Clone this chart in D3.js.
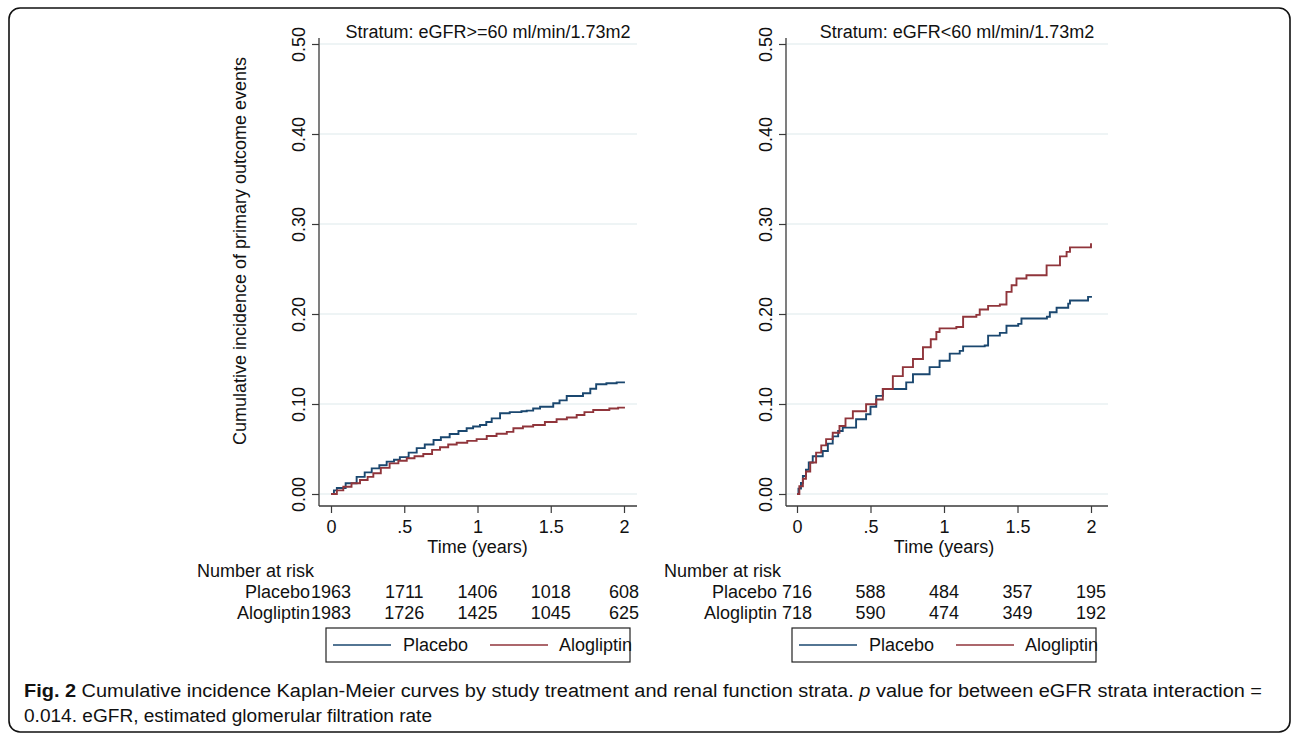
<!DOCTYPE html>
<html><head><meta charset="utf-8">
<script src="https://cdn.jsdelivr.net/npm/d3@7"></script>
<style>
html,body{margin:0;padding:0;background:#fff;}
svg{display:block;}
text{font-family:"Liberation Sans",Arial,sans-serif;fill:#111;}
</style></head>
<body>
<svg id="chart" width="1292" height="734"></svg>
<script>
// ---------- data ----------
const timeTicks = [0, 0.5, 1, 1.5, 2];
const timeTickLabels = ["0", ".5", "1", "1.5", "2"];
const yTicks = [0, 0.1, 0.2, 0.3, 0.4, 0.5];
const yTickLabels = ["0.00", "0.10", "0.20", "0.30", "0.40", "0.50"];
const seriesNames = ["Placebo", "Alogliptin"];
const strata = ["Stratum: eGFR>=60 ml/min/1.73m2", "Stratum: eGFR<60 ml/min/1.73m2"];

// cumulative incidence [time (years), incidence]
const highPlacebo = [[0,0],[0.02,0.004],[0.04,0.0066],[0.1,0.012],[0.175,0.019],[0.23,0.024],[0.278,0.0285],[0.33,0.032],[0.38,0.036],[0.43,0.038],[0.47,0.041],[0.53,0.046],[0.585,0.051],[0.64,0.055],[0.70,0.060],[0.75,0.063],[0.81,0.0667],[0.87,0.070],[0.926,0.073],[0.97,0.075],[1.017,0.0767],[1.06,0.080],[1.097,0.084],[1.154,0.0897],[1.22,0.091],[1.3,0.092],[1.336,0.0926],[1.38,0.095],[1.427,0.097],[1.517,0.1008],[1.56,0.104],[1.609,0.1089],[1.72,0.112],[1.77,0.117],[1.81,0.122],[1.88,0.123],[1.95,0.124],[2.0,0.125]];
const highAlogliptin = [[0,0],[0.04,0.004],[0.084,0.0081],[0.14,0.012],[0.198,0.0156],[0.25,0.019],[0.289,0.023],[0.34,0.029],[0.40,0.034],[0.46,0.037],[0.517,0.0397],[0.57,0.042],[0.63,0.0444],[0.69,0.049],[0.744,0.052],[0.80,0.055],[0.858,0.057],[0.93,0.059],[0.994,0.061],[1.063,0.0644],[1.13,0.067],[1.2,0.069],[1.245,0.073],[1.31,0.075],[1.38,0.0767],[1.46,0.080],[1.54,0.083],[1.61,0.085],[1.677,0.0878],[1.73,0.091],[1.79,0.0933],[1.90,0.095],[1.96,0.096],[2.0,0.097]];
const lowPlacebo = [[0,0],[0.01,0.006],[0.027,0.0123],[0.04,0.02],[0.061,0.027],[0.08,0.035],[0.107,0.042],[0.175,0.0477],[0.21,0.056],[0.243,0.064],[0.28,0.07],[0.311,0.0737],[0.402,0.083],[0.47,0.0886],[0.5,0.097],[0.539,0.109],[0.584,0.1166],[0.743,0.124],[0.789,0.133],[0.902,0.141],[0.97,0.148],[1.039,0.156],[1.107,0.159],[1.13,0.164],[1.277,0.165],[1.3,0.176],[1.38,0.179],[1.425,0.187],[1.505,0.189],[1.527,0.195],[1.70,0.197],[1.72,0.202],[1.766,0.207],[1.845,0.2115],[1.857,0.215],[1.98,0.219],[2.0,0.22]];
const lowAlogliptin = [[0,0],[0.016,0.0086],[0.04,0.017],[0.061,0.025],[0.09,0.035],[0.13,0.046],[0.165,0.054],[0.198,0.061],[0.243,0.068],[0.289,0.0756],[0.33,0.084],[0.38,0.092],[0.47,0.0998],[0.539,0.105],[0.584,0.1166],[0.652,0.131],[0.72,0.141],[0.789,0.150],[0.857,0.163],[0.91,0.172],[0.948,0.18],[0.97,0.184],[1.084,0.1855],[1.13,0.197],[1.22,0.199],[1.243,0.205],[1.3,0.209],[1.38,0.2105],[1.425,0.2246],[1.46,0.232],[1.493,0.2395],[1.561,0.243],[1.675,0.243],[1.698,0.254],[1.789,0.264],[1.834,0.269],[1.857,0.274],[1.993,0.274],[2.0,0.2786]];

const riskHighPlacebo = [1963, 1711, 1406, 1018, 608];
const riskHighAlogliptin = [1983, 1726, 1425, 1045, 625];
const riskLowPlacebo = [716, 588, 484, 357, 195];
const riskLowAlogliptin = [718, 590, 474, 349, 192];

const captionLine1Rest = " Cumulative incidence Kaplan-Meier curves by study treatment and renal function strata. ";
const captionLine1End = " value for between eGFR strata interaction =";
const captionLine2 = "0.014. eGFR, estimated glomerular filtration rate";

// ---------- drawing ----------
const svg = d3.select("#chart");
const BLUE = "#1a476f", RED = "#90353b", GRID = "#e8f0f2", AXIS = "#3a3a3a";
const FS = 18;

// outer frame
svg.append("rect").attr("x", 9).attr("y", 8).attr("width", 1281).attr("height", 724)
  .attr("rx", 11).attr("fill", "none").attr("stroke", "#111").attr("stroke-width", 1.6);

const panels = [
  {title: strata[0], x0: 319, xs: 331, xe: 624, xr: 637, series: [highPlacebo, highAlogliptin], risk: [riskHighPlacebo, riskHighAlogliptin], legX: 326, narX: 197, ytitle: true},
  {title: strata[1], x0: 786, xs: 797, xe: 1091, xr: 1108, series: [lowPlacebo, lowAlogliptin], risk: [riskLowPlacebo, riskLowAlogliptin], legX: 792, narX: 664, ytitle: false}
];

const yTop = 38, yAxisBottom = 506;
const y = d3.scaleLinear().domain([0, 0.5]).range([494, 44]);

panels.forEach(p => {
  const x = d3.scaleLinear().domain([0, 2]).range([p.xs, p.xe]);
  const g = svg.append("g");

  // grid
  g.selectAll("line.grid").data(yTicks).join("line")
    .attr("x1", p.x0 + 1).attr("x2", p.xr).attr("y1", d => y(d)).attr("y2", d => y(d))
    .attr("stroke", GRID).attr("stroke-width", 1.5);

  // y axis
  const yAxis = d3.axisLeft(y).tickValues(yTicks).tickSize(7).tickFormat((d, i) => yTickLabels[i]);
  const ya = g.append("g").attr("transform", `translate(${p.x0},0)`).call(yAxis);
  ya.select(".domain").remove();
  ya.selectAll(".tick line").attr("stroke", AXIS).attr("stroke-width", 1.2);
  ya.selectAll(".tick text").attr("font-size", FS).attr("fill", "#111")
    .attr("font-family", "Liberation Sans, Arial, sans-serif")
    .attr("transform", "rotate(-90)").attr("x", 0).attr("y", -14)
    .attr("text-anchor", "middle").attr("dy", 0);
  g.append("line").attr("x1", p.x0).attr("x2", p.x0).attr("y1", yTop).attr("y2", yAxisBottom)
    .attr("stroke", AXIS).attr("stroke-width", 1.3);

  // x axis
  const xAxis = d3.axisBottom(x).tickValues(timeTicks).tickSize(7).tickFormat((d, i) => timeTickLabels[i]);
  const xa = g.append("g").attr("transform", `translate(0,${yAxisBottom})`).call(xAxis);
  xa.select(".domain").remove();
  xa.selectAll(".tick line").attr("stroke", AXIS).attr("stroke-width", 1.2);
  xa.selectAll(".tick text").attr("font-size", FS).attr("fill", "#111")
    .attr("font-family", "Liberation Sans, Arial, sans-serif").attr("y", 27).attr("dy", 0);
  g.append("line").attr("x1", p.x0).attr("x2", p.xr).attr("y1", yAxisBottom).attr("y2", yAxisBottom)
    .attr("stroke", AXIS).attr("stroke-width", 1.3);

  // curves
  const line = d3.line().x(d => x(d[0])).y(d => y(d[1])).curve(d3.curveStepAfter);
  [BLUE, RED].forEach((c, i) => {
    g.append("path").datum(p.series[i]).attr("d", line).attr("fill", "none")
      .attr("stroke", c).attr("stroke-width", 1.9);
  });

  // title
  g.append("text").attr("x", (p.x0 + p.xr) / 2 + 10).attr("y", 38).attr("text-anchor", "middle")
    .attr("font-size", FS).text(p.title);

  // x title
  g.append("text").attr("x", (p.xs + p.xe) / 2).attr("y", 553).attr("text-anchor", "middle")
    .attr("font-size", FS).text("Time (years)");

  // number at risk
  g.append("text").attr("x", p.narX).attr("y", 577).attr("font-size", FS).text("Number at risk");
  seriesNames.forEach((nm, i) => {
    const by = 598 + i * 21;
    g.append("text").attr("x", p.x0 - 9).attr("y", by).attr("text-anchor", "end")
      .attr("font-size", FS).text(nm);
    g.selectAll(null).data(p.risk[i]).join("text")
      .attr("x", (d, j) => x(timeTicks[j])).attr("y", by).attr("text-anchor", "middle")
      .attr("font-size", FS).text(d => d);
  });

  // legend
  const lg = g.append("g").attr("transform", `translate(${p.legX},628)`);
  lg.append("rect").attr("x", 0).attr("y", 0).attr("width", 304).attr("height", 34)
    .attr("fill", "none").attr("stroke", "#222").attr("stroke-width", 1.2);
  [[BLUE, 7, 77], [RED, 164, 233]].forEach((d, i) => {
    lg.append("line").attr("x1", d[1]).attr("x2", d[1] + 58).attr("y1", 17).attr("y2", 17)
      .attr("stroke", d[0]).attr("stroke-width", 1.6);
    lg.append("text").attr("x", d[2]).attr("y", 23).attr("font-size", FS).text(seriesNames[i]);
  });

  if (p.ytitle) {
    g.append("text").attr("transform", `translate(246,251) rotate(-90)`).attr("text-anchor", "middle")
      .attr("font-size", FS).text("Cumulative incidence of primary outcome events");
  }
});

// caption
const cap = svg.append("text").attr("x", 24).attr("y", 697)
  .attr("font-family", "Liberation Sans Narrow, DejaVu Sans Condensed, sans-serif")
  .attr("font-size", 18).attr("fill", "#231f20")
  .attr("textLength", 1238).attr("lengthAdjust", "spacingAndGlyphs");
cap.append("tspan").attr("font-weight", "bold").text("Fig. 2");
cap.append("tspan").text(captionLine1Rest);
cap.append("tspan").attr("font-style", "italic").text("p");
cap.append("tspan").text(captionLine1End);
svg.append("text").attr("x", 24).attr("y", 722)
  .attr("font-family", "Liberation Sans Narrow, DejaVu Sans Condensed, sans-serif")
  .attr("font-size", 18).attr("fill", "#231f20")
  .attr("textLength", 408).attr("lengthAdjust", "spacingAndGlyphs")
  .text(captionLine2);
</script>
</body></html>
